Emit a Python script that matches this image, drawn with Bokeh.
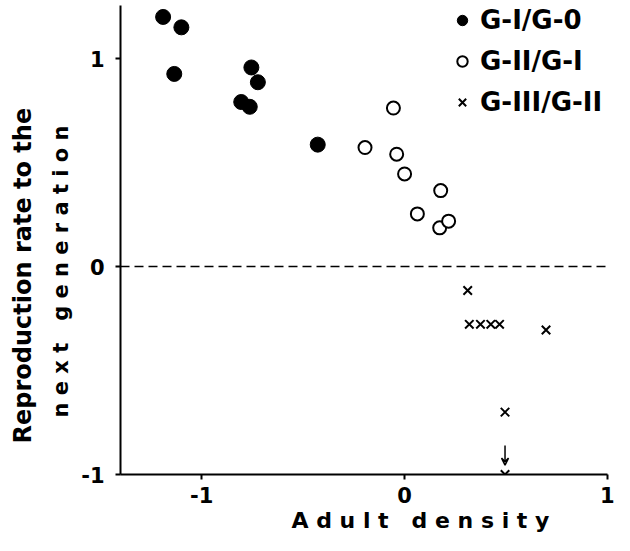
from bokeh.plotting import figure
from bokeh.models import (Range1d, FixedTicker, Span, Legend, LegendItem,
                          Arrow, VeeHead, Title)
from bokeh.embed import file_html
from bokeh.resources import INLINE

# ---- data ----
g1_x = [-1.19, -1.10, -1.135, -0.755, -0.723, -0.805, -0.763, -0.428]
g1_y = [1.20, 1.15, 0.926, 0.957, 0.886, 0.791, 0.768, 0.586]
g2_x = [-0.055, -0.195, -0.039, 0.0, 0.178, 0.063, 0.173, 0.217]
g2_y = [0.762, 0.572, 0.540, 0.445, 0.365, 0.253, 0.186, 0.218]
g3_x = [0.311, 0.319, 0.374, 0.425, 0.468, 0.697, 0.495, 0.495]
g3_y = [-0.115, -0.278, -0.278, -0.278, -0.278, -0.305, -0.700, -1.0]
arrow_x = [0.495]
arrow_y0 = [-0.86]
arrow_y1 = [-0.955]
labels = ["G-I/G-0", "G-II/G-I", "G-III/G-II"]
x_ticks = [-1, 0, 1]
y_ticks = [-1, 0, 1]
tick_text = {-1: "-1", 0: "0", 1: "1"}
x_title = "A d u l t \u00a0 d e n s i t y"
y_title_1 = "Reproduction rate to the"
y_title_2 = "n e x t \u00a0 g e n e r a t i o n"

FONT = "DejaVu Sans"

p = figure(width=614, height=535, output_backend="svg", toolbar_location=None,
           x_range=Range1d(-1.40, 1.0), y_range=Range1d(-1.0, 1.255),
           min_border_left=120, min_border_right=7, min_border_top=5,
           min_border_bottom=61)
p.outline_line_color = None
p.grid.visible = False
p.background_fill_color = "white"
p.border_fill_color = "white"

for ax in (p.xaxis[0], p.yaxis[0]):
    ax.axis_line_width = 2
    ax.axis_line_color = "black"
    ax.major_tick_line_width = 2
    ax.major_tick_line_color = "black"
    ax.major_tick_in = 0
    ax.major_tick_out = 5
    ax.minor_tick_line_color = None
    ax.major_label_text_font = FONT
    ax.major_label_text_font_style = "bold"
    ax.major_label_text_font_size = "21px"
    ax.major_label_text_color = "black"
    ax.major_label_overrides = tick_text

p.xaxis.major_label_standoff = 7
p.yaxis.major_label_standoff = 11
p.xaxis.ticker = FixedTicker(ticks=x_ticks)
p.yaxis.ticker = FixedTicker(ticks=y_ticks)

p.add_layout(Span(location=0, dimension="width", line_color="black",
                  line_width=1.5, line_dash="9 5"))

r1 = p.scatter(g1_x, g1_y, marker="circle", size=15, fill_color="black",
               line_color="black")
r2 = p.scatter(g2_x, g2_y, marker="circle", size=13, fill_color="white",
               line_color="black", line_width=2)
r3 = p.scatter(g3_x, g3_y, marker="x", size=12, line_color="black",
               line_width=2)

for ax_, y0, y1 in zip(arrow_x, arrow_y0, arrow_y1):
    p.add_layout(Arrow(x_start=ax_, y_start=y0, x_end=ax_, y_end=y1,
                       line_width=1.5, line_color="black",
                       end=VeeHead(size=7, line_width=1.5, line_color="black",
                                   fill_color=None)))

legend = Legend(items=[LegendItem(label=labels[0], renderers=[r1]),
                       LegendItem(label=labels[1], renderers=[r2]),
                       LegendItem(label=labels[2], renderers=[r3])],
                location=(329, 357), orientation="vertical",
                glyph_width=26, glyph_height=26, label_height=26,
                spacing=11, padding=0, margin=0, label_standoff=5,
                label_text_font=FONT, label_text_font_style="bold",
                label_text_font_size="26px", label_text_color="black",
                border_line_color=None, background_fill_alpha=0)
p.add_layout(legend)

# axis titles (side titles, offset like the original)
p.add_layout(Title(text=x_title, align="left", offset=171, standoff=0,
                   text_font=FONT, text_font_style="bold",
                   text_font_size="22px", text_color="black"), "below")
p.add_layout(Title(text=y_title_2, align="left", offset=57, standoff=11,
                   text_font=FONT, text_font_style="bold",
                   text_font_size="21px", text_color="black"), "left")
p.add_layout(Title(text=y_title_1, align="left", offset=31, standoff=10,
                   text_font=FONT, text_font_style="bold",
                   text_font_size="24px", text_color="black"), "left")

open("out.html", "w").write(file_html(p, INLINE))
